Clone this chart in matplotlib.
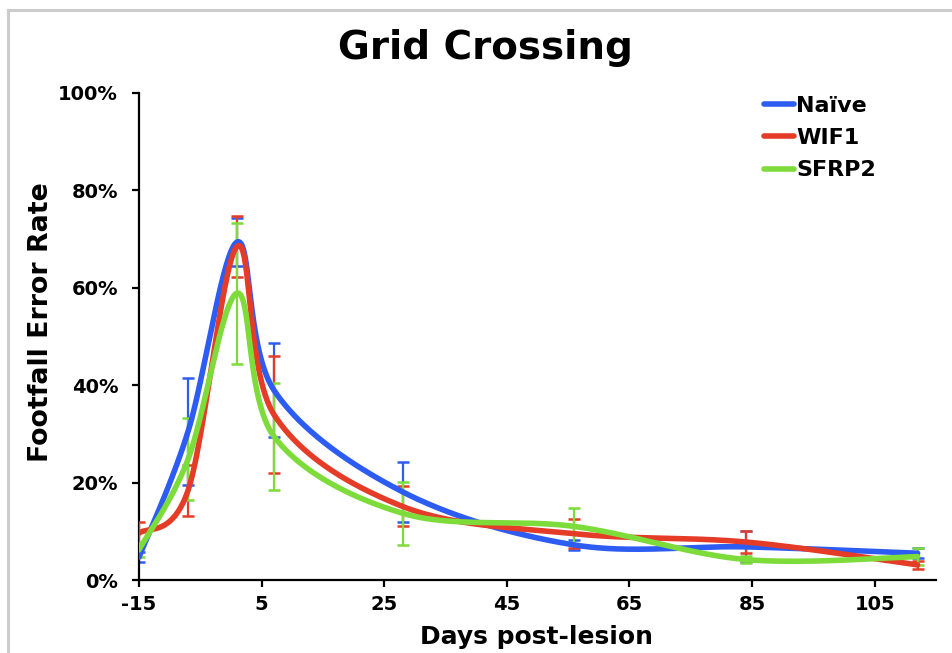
import numpy as np
import matplotlib
matplotlib.use("Agg")
import matplotlib.pyplot as plt
from matplotlib.lines import Line2D

# ---- data ----
days = [-15, -7, 1, 7, 28, 56, 84, 112]
naive = [4.7, 30.5, 69.4, 39.0, 18.1, 7.2, 6.8, 5.5]
naive_err = [1.1, 11.0, 5.0, 9.6, 6.1, 1.0, 3.2, 1.0]
wif1 = [9.6, 18.4, 68.5, 34.0, 15.1, 9.5, 7.8, 3.1]
wif1_err = [2.4, 5.2, 6.2, 12.0, 4.1, 3.0, 2.2, 0.8]
sfrp2 = [6.2, 24.8, 58.9, 29.5, 13.7, 11.0, 4.2, 4.8]
sfrp2_err = [1.5, 8.4, 14.5, 11.0, 6.5, 3.8, 0.8, 1.8]
series_names = ["Naïve", "WIF1", "SFRP2"]
colors = ["#2c5cf2", "#e53c27", "#7ddb3a"]
yticks = [0, 20, 40, 60, 80, 100]
xticks = [-15, 5, 25, 45, 65, 85, 105]


def smooth(xs, ys, n=120):
    P = np.column_stack([xs, ys]).astype(float)
    out = []
    m = len(P)
    for i in range(m - 1):
        p0 = P[i - 1] if i > 0 else P[i]
        p1 = P[i]
        p2 = P[i + 1]
        p3 = P[i + 2] if i + 2 < m else P[i + 1]
        c1 = p1 + (p2 - p0) / 6.0
        c2 = p2 - (p3 - p1) / 6.0
        t = np.linspace(0, 1, n)[:, None]
        seg = ((1 - t) ** 3) * p1 + 3 * ((1 - t) ** 2) * t * c1 + 3 * (1 - t) * t ** 2 * c2 + t ** 3 * p2
        out.append(seg if i == 0 else seg[1:])
    S = np.vstack(out)
    return S[:, 0], S[:, 1]


plt.rcParams["font.family"] = ["DejaVu Sans"]
plt.rcParams["font.weight"] = "bold"
plt.rcParams["axes.unicode_minus"] = False

W, H = 952, 653
fig = plt.figure(figsize=(W / 100, H / 100), dpi=100)
ax = fig.add_axes([139 / W, 1 - 580 / H, (936 - 139) / W, (580 - 93) / H])

# outer frame (top and left, light gray)
fig.add_artist(Line2D([8 / W, 1.0], [1 - 10 / H, 1 - 10 / H], color="#cccccc", lw=2.2, transform=fig.transFigure))
fig.add_artist(Line2D([8 / W, 8 / W], [0, 1 - 10 / H], color="#cccccc", lw=2.2, transform=fig.transFigure))

data = [(naive, naive_err), (wif1, wif1_err), (sfrp2, sfrp2_err)]
for k, ((vals, errs), col, name) in enumerate(zip(data, colors, series_names)):
    ax.errorbar(days, vals, yerr=errs, fmt="none", ecolor=col, elinewidth=1.6,
                capsize=4.5, capthick=1.8, zorder=2 + k)
for k, ((vals, errs), col, name) in enumerate(zip(data, colors, series_names)):
    sx, sy = smooth(days, vals)
    ax.plot(sx, sy, color=col, lw=4.0, solid_capstyle="round", zorder=5 + k, label=name)

ax.set_xlim(-15, 115)
ax.set_ylim(0, 100)
ax.set_xticks(xticks)
ax.set_yticks(yticks)
ax.set_yticklabels([f"{v}%" for v in yticks])
for s in ["top", "right"]:
    ax.spines[s].set_visible(False)
for s in ["left", "bottom"]:
    ax.spines[s].set_linewidth(1.6)
ax.tick_params(axis="both", direction="out", length=5, width=1.6, labelsize=14)
ax.tick_params(axis="y", pad=10)
ax.tick_params(axis="x", pad=6)
for lab in ax.get_xticklabels() + ax.get_yticklabels():
    lab.set_fontweight("bold")

fig.text(485 / W, 1 - 48 / H, "Grid Crossing", ha="center", va="center", fontsize=28, fontweight="bold")
fig.text(536 / W, 1 - 637 / H, "Days post-lesion", ha="center", va="center", fontsize=18, fontweight="bold")
fig.text(41 / W, 1 - 322 / H, "Footfall Error Rate", ha="center", va="center", rotation=90, fontsize=19.3, fontweight="bold")

leg = ax.legend(loc="upper left", bbox_to_anchor=(755 / W, 1 - 87 / H), bbox_transform=fig.transFigure,
                frameon=False, fontsize=16, handlelength=1.35, handletextpad=0.1, labelspacing=0.55,
                borderaxespad=0)
for t in leg.get_texts():
    t.set_fontweight("bold")
for l in leg.get_lines():
    l.set_linewidth(4)

fig.savefig("out.png", dpi=100)
